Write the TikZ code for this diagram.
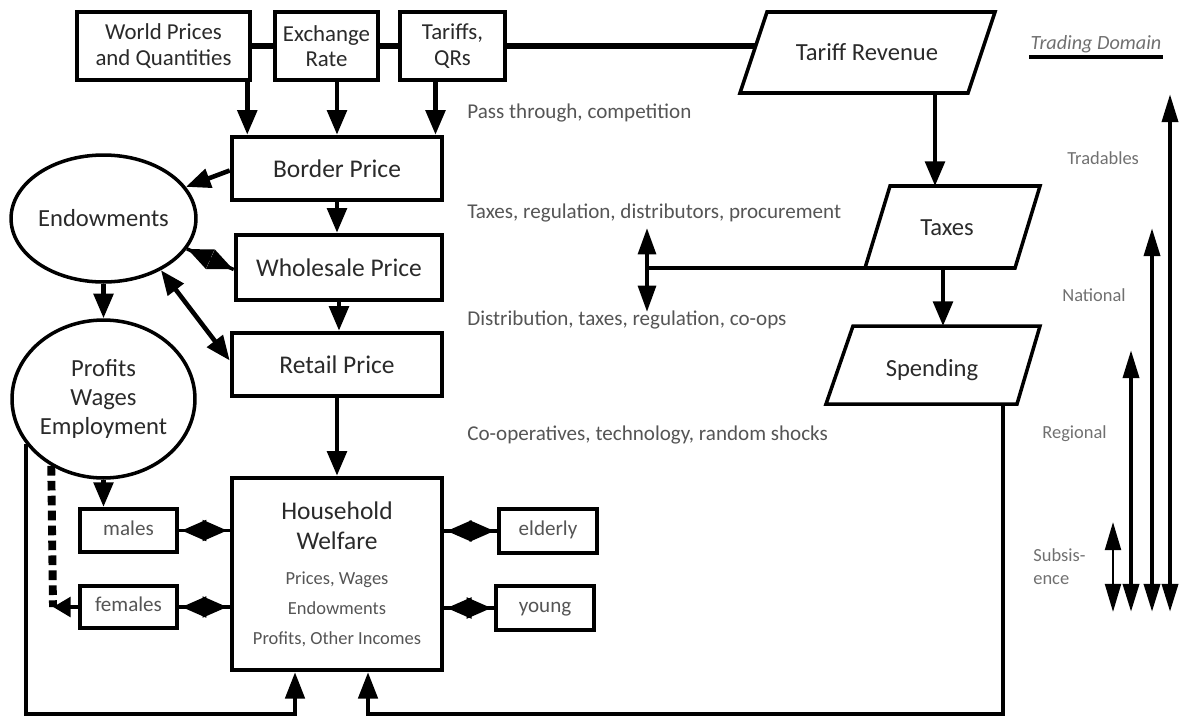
\documentclass[tikz,border=0pt]{standalone}
\usepackage{fontspec}
\setmainfont{Carlito}
\usetikzlibrary{arrows.meta,calc,shapes.geometric}
\definecolor{txt}{HTML}{2A2A2A}
\definecolor{lbl}{HTML}{555555}
\definecolor{rlb}{HTML}{707070}
\begin{document}
\begin{tikzpicture}[x=0.02cm,y=-0.02cm,
  box/.style={draw, line width=2.6pt, fill=white, inner sep=1pt, align=center, text=txt, font=\fontsize{13}{14.5}\selectfont},
  sbox/.style={box, line width=2.4pt, font=\fontsize{12}{14}\selectfont, text=lbl, text height=1.6ex, text depth=0.45ex},
  ell/.style={draw, ellipse, line width=2pt, inner sep=0pt, align=center, text=txt, font=\fontsize{14}{16.5}\selectfont},
  para/.style={line width=2pt, line join=miter},
  ptext/.style={text=txt, font=\fontsize{14}{16}\selectfont},
  conn/.style={line width=2.6pt, -{Triangle[width=11pt,length=14pt]}},
  dconn/.style={line width=2.6pt, {Triangle[width=11pt,length=14pt]}-{Triangle[width=11pt,length=14pt]}},
  stub/.style={line width=2pt},
  half/.style={line width=1pt, shorten >=1.5pt, -{Triangle[width=12pt,length=14pt]}},
  link/.style={line width=3.6pt},
  rarr/.style={line width=2.4pt, {Triangle[width=9pt,length=16pt]}-{Triangle[width=9pt,length=16pt]}},
  lab/.style={anchor=west, text=lbl, font=\fontsize{12}{13}\selectfont, inner sep=0pt},
  rlab/.style={anchor=west, text=rlb, font=\fontsize{10.5}{13}\selectfont, inner sep=0pt, align=left}
]
\useasboundingbox (0,0) rectangle (1182,717);

% top boxes
\node[box, minimum width=3.46cm, minimum height=1.36cm] (world) at (163.5,46) {World Prices\\and Quantities};
\node[box, minimum width=2.06cm, minimum height=1.36cm] (exch) at (326.5,46) {Exchange\\Rate};
\node[box, minimum width=2.10cm, minimum height=1.36cm] (tariffs) at (452.5,46) {Tariffs,\\QRs};

% price chain
\node[box, minimum width=4.2cm, minimum height=1.26cm, font=\fontsize{14.5}{16}\selectfont] (border) at (337,168.5) {Border Price};
\node[box, minimum width=4.12cm, minimum height=1.30cm, font=\fontsize{14.5}{16}\selectfont] (wholesale) at (339,267.5) {Wholesale Price};
\node[box, minimum width=4.2cm, minimum height=1.26cm, font=\fontsize{14.5}{16}\selectfont] (retail) at (337,364.5) {Retail Price};
\node[box, minimum width=4.2cm, minimum height=3.84cm, font=\fontsize{14.5}{17}\selectfont] (hh) at (337,574)
  {Household\\Welfare\\[3pt]{\fontsize{10.5}{14}\selectfont\color{lbl}Prices, Wages}\\{\fontsize{10.5}{14}\selectfont\color{lbl}Endowments}\\{\fontsize{10.5}{14}\selectfont\color{lbl}Profits, Other Incomes}};

% ellipses
\node[ell, minimum width=3.66cm, minimum height=2.54cm] (endow) at (103.5,218.5) {Endowments};
\node[ell, minimum width=3.66cm, minimum height=3.16cm] (prof) at (103.5,399) {Profits\\Wages\\Employment};

% small boxes
\node[sbox, minimum width=1.94cm, minimum height=0.86cm] (males) at (128.5,530.5) {males};
\node[sbox, minimum width=1.94cm, minimum height=0.84cm] (females) at (128.5,607) {females};
\node[sbox, minimum width=1.96cm, minimum height=0.88cm] (elderly) at (548,531) {elderly};
\node[sbox, minimum width=1.96cm, minimum height=0.88cm] (young) at (545,608) {young};

% parallelograms
\coordinate (tr1) at (767,12); \coordinate (tr2) at (995,12); \coordinate (tr3) at (968,93); \coordinate (tr4) at (740,93);
\draw[para] (tr1) -- (tr2) -- (tr3) -- (tr4) -- cycle;
\node[ptext] (trev) at (867,52) {Tariff Revenue};
\coordinate (tx1) at (890,186); \coordinate (tx2) at (1040,186); \coordinate (tx3) at (1015,268); \coordinate (tx4) at (865,268);
\draw[para] (tx1) -- (tx2) -- (tx3) -- (tx4) -- cycle;
\node[ptext] (taxes) at (947,228) {Taxes};
\coordinate (sp1) at (853,326); \coordinate (sp2) at (1040,326); \coordinate (sp3) at (1017,404); \coordinate (sp4) at (826,404);
\draw[para] (sp1) -- (sp2) -- (sp3) -- (sp4) -- cycle;
\node[ptext] (spend) at (932,370) {Spending};

% top links
\coordinate (trevL) at (755.7,46);
\draw[link] (world.east) -- (exch.west);
\draw[link] (exch.east) -- (tariffs.west);
\draw[link] (tariffs.east) -- (trevL);

% arrows into border price
\coordinate (a1) at ($(world.south east)+(-5,0)$);
\coordinate (a2) at (border.north |- exch.south);
\coordinate (a3) at ($(tariffs.south)+(-17,0)$);
\draw[conn] (a1) -- (a1 |- border.north);
\draw[conn] (a2) -- (border.north);
\draw[conn] (a3) -- (a3 |- border.north);

% chain
\draw[conn] (border.south) -- (border.south |- wholesale.north);
\draw[conn] (wholesale.south) -- (wholesale.south |- retail.north);
\draw[conn] (retail.south) -- (hh.north);

% endowments links
\draw[conn] ($(border.west)+(0,2)$) -- (endow.21);
\coordinate (wsw) at ($(wholesale.west)+(0,2)$);
\coordinate (ewp) at (endow.-20);
\coordinate (wsm) at ($(wsw)!0.5!(ewp)$);
\draw[stub] (wsw) -- (ewp);
\draw[line width=1pt, shorten >=0.5pt, -{Triangle[width=12pt,length=14pt]}] (wsm) -- (ewp);
\draw[line width=1pt, shorten >=0.5pt, -{Triangle[width=12pt,length=14pt]}] (wsm) -- (wsw);
\draw[dconn] (endow.-42) -- ($(retail.west)+(0,-4)$);
\draw[conn] (endow.south) -- (prof.north);
\draw[conn] (prof.south) -- (prof.south |- males.north);

% household side links (diamond double arrows)
\foreach \n/\a/\b in {males/east/west, females/east/west, elderly/west/east, young/west/east}{
  \coordinate (hp) at (hh.\b |- \n.\a);
  \coordinate (mid) at ($(\n.\a)!0.5!(hp)$);
  \draw[stub] (\n.\a) -- (hp);
  \draw[half] (mid) -- (\n.\a);
  \draw[half] (mid) -- (hp);
}

% dashed and female arrow
\coordinate (dashend) at (53,607);
\draw[line width=4.5pt, dash pattern=on 5.5pt off 3pt] (prof.232.5) -- (dashend);
\draw[line width=2.6pt, -{Triangle[width=11pt,length=10pt]}] (females.west) -- (dashend);

% bottom feedback lines
\coordinate (b1) at (295,714);
\coordinate (b2) at (368,714);
\coordinate (pl) at (prof.210.6);
\draw[line width=2.2pt, -{Triangle[width=11pt,length=15pt]}] (pl) -- (pl |- b1) -- (b1) -- (b1 |- hh.south);
\coordinate (spB) at (1003,404);
\draw[line width=2.2pt, -{Triangle[width=11pt,length=15pt]}] (spB) -- (spB |- b2) -- (b2) -- (b2 |- hh.south);

% tax chain
\coordinate (trevB) at (935,93);
\draw[conn] (trevB) -- (trevB |- tx1);
\coordinate (taxB) at (943,268);
\draw[conn] (taxB) -- (taxB |- sp1);
\coordinate (tj) at (647,268);
\draw[line width=2.8pt] (tx4) -- (tj);
\coordinate (tjU) at (647,228);
\coordinate (tjD) at (647,312);
\draw[line width=2.4pt, -{Triangle[width=10pt,length=15pt]}] (tj) -- (tjU);
\draw[line width=2.4pt, -{Triangle[width=10pt,length=15pt]}] (tj) -- (tjD);

% labels
\node[lab] (l1) at (467,113) {Pass through, competition};
\node[lab] (l2) at (467,213) {Taxes, regulation, distributors, procurement};
\node[lab] (l3) at (467,320) {Distribution, taxes, regulation, co-ops};
\node[lab] (l4) at (467,435) {Co-operatives, technology, random shocks};

% trading domain
\node[rlab, anchor=center, font=\fontsize{11.5}{13}\selectfont\itshape] (td) at (1096,44) {Trading Domain};
\draw[line width=2.6pt] (1029,57) coordinate (u1) -- (1163,57) coordinate (u2);

\coordinate (t1) at (1170,94);  \coordinate (t2) at (1170,612);
\coordinate (n1) at (1152,228); \coordinate (n2) at (1152,612);
\coordinate (r1) at (1131,350); \coordinate (r2) at (1131,612);
\coordinate (s1) at (1113,522); \coordinate (s2) at (1113,612);
\draw[rarr] (t2) -- (t1);
\draw[rarr] (n2) -- (n1);
\draw[rarr] (r2) -- (r1);
\draw[rarr, line width=1.6pt] (s2) -- (s1);
\node[rlab] (ltr) at (1067,158) {Tradables};
\node[rlab] (lna) at (1062,295) {National};
\node[rlab] (lre) at (1042,434) {Regional};
\node[rlab] (lsu) at (1033,567) {Subsis-\\ence};
\end{tikzpicture}
\end{document}
